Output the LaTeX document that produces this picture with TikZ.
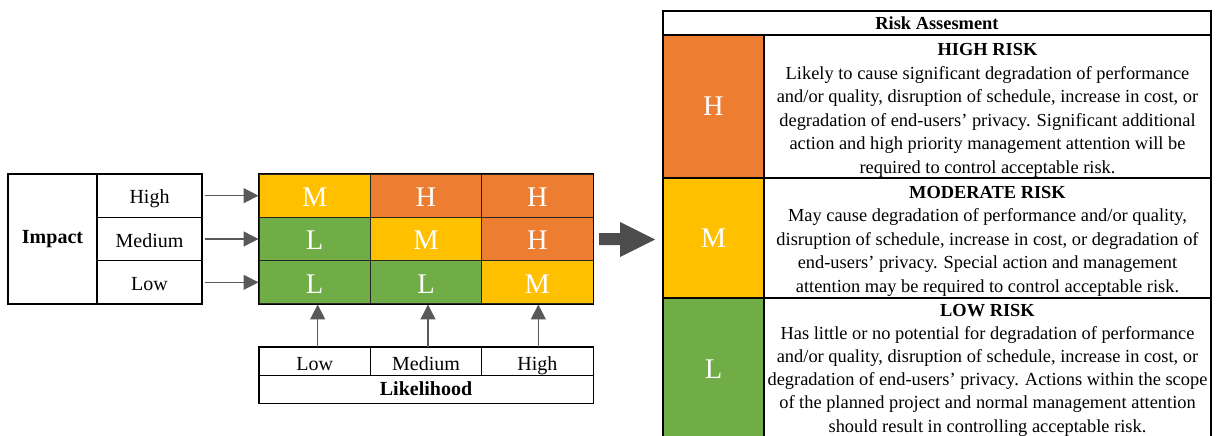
\documentclass[tikz,border=0pt]{standalone}
\usepackage{fontspec}
\setmainfont{Liberation Serif}
\usetikzlibrary{arrows.meta}
\definecolor{hred}{HTML}{ED7D31}
\definecolor{myel}{HTML}{FFC000}
\definecolor{lgrn}{HTML}{70AD47}
\definecolor{agray}{HTML}{4D4D4D}
\definecolor{sgray}{HTML}{595959}
\begin{document}
\begin{tikzpicture}[x=1pt,y=-1pt,
  box/.style={draw=black, line width=1.2pt, inner sep=0pt, text height=17pt, text depth=1pt, font=\fontsize{20}{24}\selectfont},
  mcell/.style={draw=black!85, line width=1pt, inner sep=0pt, minimum width=111.33pt, minimum height=43.33pt, text height=21.4pt, text depth=0pt, text=white, font=\fontsize{28.5}{30}\selectfont},
  lcell/.style={draw=black, line width=1pt, inner sep=0pt, minimum width=111.33pt, minimum height=28pt, text height=18pt, text depth=0pt, font=\fontsize{20}{24}\selectfont},
  sarrow/.style={draw=sgray, line width=1.4pt, -{Triangle[length=15pt,width=15pt]}},
  tcell/.style={draw=black, line width=1.3pt, inner sep=0pt},
  letter/.style={tcell, minimum width=101pt, text height=18.5pt, text depth=0pt, text=white, font=\fontsize{28.5}{30}\selectfont},
  desc/.style={tcell, minimum width=447pt},
  desctext/.style={inner sep=0pt, align=center, font=\fontsize{18.4}{23.5}\selectfont},
]
\useasboundingbox (0,0) rectangle (1216,436);
\clip (0,0) rectangle (1216,436);

% Impact
\node[draw=black, line width=1.2pt, inner sep=0pt, minimum width=89pt, minimum height=130pt, font=\fontsize{20}{24}\selectfont\bfseries] (imp) at (52.5,239) {Impact};
\node[box, minimum width=105pt, minimum height=43.33pt] (ih) at (149.5,195.67) {High};
\node[box, minimum width=105pt, minimum height=43.33pt] (im) at (149.5,239) {Medium};
\node[box, minimum width=105pt, minimum height=43.33pt] (il) at (149.5,282.33) {Low};

% matrix
\node[mcell, fill=myel] (m11) at (314.67,195.67) {M};
\node[mcell, fill=hred] (m12) at (426,195.67) {H};
\node[mcell, fill=hred] (m13) at (537.33,195.67) {H};
\node[mcell, fill=lgrn] (m21) at (314.67,239) {L};
\node[mcell, fill=myel] (m22) at (426,239) {M};
\node[mcell, fill=hred] (m23) at (537.33,239) {H};
\node[mcell, fill=lgrn] (m31) at (314.67,282.33) {L};
\node[mcell, fill=lgrn] (m32) at (426,282.33) {L};
\node[mcell, fill=myel] (m33) at (537.33,282.33) {M};
\draw[line width=1.5pt] (m11.north west) rectangle (m33.south east);

% likelihood
\node[lcell] (lk1) at (314.67,361) {Low};
\node[lcell] (lk2) at (426,361) {Medium};
\node[lcell] (lk3) at (537.33,361) {High};
\node[lcell, minimum width=334pt, text height=14pt, text depth=2pt, font=\fontsize{20}{24}\selectfont\bfseries] (lkt) at (426,389) {Likelihood};
\draw[line width=1.4pt] (lk1.north west) rectangle (lkt.south east);

% arrows
\draw[sarrow, shorten <=2pt] (ih.east) -- (m11.west);
\draw[sarrow, shorten <=2pt] (im.east) -- (m21.west);
\draw[sarrow, shorten <=2pt] (il.east) -- (m31.west);
\draw[sarrow] ([xshift=3pt]lk1.north) -- ([xshift=3pt]m31.south);
\draw[sarrow] ([xshift=2pt]lk2.north) -- ([xshift=2pt]m32.south);
\draw[sarrow] ([xshift=1pt]lk3.north) -- ([xshift=1pt]m33.south);

% big arrow
\fill[agray] (599,233) -- (620,233) -- (620,222) -- (655,239.5) -- (620,257) -- (620,245) -- (599,245) -- cycle;

% right table
\node[tcell, minimum width=548pt, minimum height=24pt, font=\fontsize{18.4}{22}\selectfont\bfseries] (rh) at (937,23) {Risk Assesment};
\node[letter, fill=hred, minimum height=143pt] (rH) at (713.5,106.5) {H};
\node[desc, minimum height=143pt] (dH) at (987.5,106.5) {};
\node[desctext] (tH) at ([yshift=-4pt]dH.center) {{\bfseries HIGH RISK}\\
Likely to cause significant degradation of performance\\
and/or quality, disruption of schedule, increase in cost, or\\
degradation of end-users’ privacy. Significant additional\\
action and high priority management attention will be\\
required to control acceptable risk.};
\node[letter, fill=myel, minimum height=120pt] (rM) at (713.5,238) {M};
\node[desc, minimum height=120pt] (dM) at (987.5,238) {};
\node[desctext] (tM) at ([yshift=-3pt]dM.center) {{\bfseries MODERATE RISK}\\
May cause degradation of performance and/or quality,\\
disruption of schedule, increase in cost, or degradation of\\
end-users’ privacy. Special action and management\\
attention may be required to control acceptable risk.};
\node[letter, fill=lgrn, minimum height=143pt] (rL) at (713.5,369.5) {L};
\node[desc, minimum height=143pt] (dL) at (987.5,369.5) {};
\node[desctext, font=\fontsize{18.4}{23.2}\selectfont] (tL) at ([yshift=-0.5pt]dL.center) {{\bfseries LOW RISK}\\
Has little or no potential for degradation of performance\\
and/or quality, disruption of schedule, increase in cost, or\\
degradation of end-users’ privacy. Actions within the scope\\
of the planned project and normal management attention\\
should result in controlling acceptable risk.};
\end{tikzpicture}
\end{document}
